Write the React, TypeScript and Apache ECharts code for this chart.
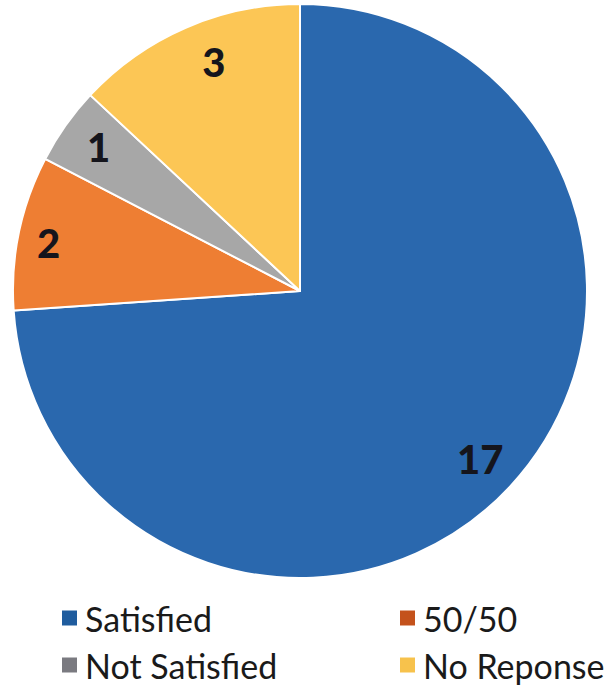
import React, { useEffect, useRef } from "react";
import * as echarts from "echarts";

const categories = ["Satisfied", "50/50", "Not Satisfied", "No Reponse"];
const values = [17, 2, 1, 3];
const colors = ["#2A68AE", "#EE7E33", "#A7A7A7", "#FCC655"];
const legendColors = ["#1F5C9E", "#C4521C", "#7A7A80", "#F7C24C"];
const labelOffsets = [
  [0, 0],
  [-10, 2],
  [0, -2],
  [12, -3],
];

export default function App() {
  const ref = useRef<HTMLDivElement>(null);
  useEffect(() => {
    if (!ref.current) return;
    const chart = echarts.init(ref.current, undefined, { renderer: "svg" });
    const data = categories.map((name, i) => ({
      name,
      value: values[i],
      itemStyle: { color: colors[i] },
    }));
    const labelData = categories.map((name, i) => ({
      name,
      value: values[i],
      label: { offset: labelOffsets[i] },
    }));
    const legendText = {
      fontFamily: "Lato",
      fontSize: 34,
      color: "#1a1a1a",
      padding: [0, 0, 0, 2],
    };
    const legendBase = {
      orient: "vertical",
      top: 596,
      icon: "rect",
      itemWidth: 17,
      itemHeight: 17,
      itemGap: 13,
      textStyle: legendText,
    };
    chart.setOption({
      animation: false,
      legend: [
        {
          ...legendBase,
          left: 55,
          data: [
            { name: "Satisfied", itemStyle: { color: legendColors[0] } },
            { name: "Not Satisfied", itemStyle: { color: legendColors[2] } },
          ],
        },
        {
          ...legendBase,
          left: 393,
          data: [
            { name: "50/50", itemStyle: { color: legendColors[1] } },
            { name: "No Reponse", itemStyle: { color: legendColors[3] } },
          ],
        },
      ],
      series: [
        {
          type: "pie",
          center: [300, 291],
          radius: 287,
          startAngle: 90,
          clockwise: true,
          label: { show: false },
          labelLine: { show: false },
          itemStyle: { borderColor: "#ffffff", borderWidth: 2 },
          data,
        },
        {
          type: "pie",
          silent: true,
          center: [300, 291],
          radius: [200, 287],
          startAngle: 90,
          clockwise: true,
          itemStyle: { color: "rgba(0,0,0,0)" },
          label: {
            show: true,
            position: "inside",
            formatter: "{c}",
            fontFamily: "Lato",
            fontWeight: 900,
            fontSize: 40,
            color: "#15151c",
          },
          labelLine: { show: false },
          data: labelData,
        },
      ],
    });
    return () => chart.dispose();
  }, []);
  return (
    <div
      ref={ref}
      style={{ position: "fixed", left: 0, top: 0, width: 611, height: 689, background: "#fff" }}
    />
  );
}
